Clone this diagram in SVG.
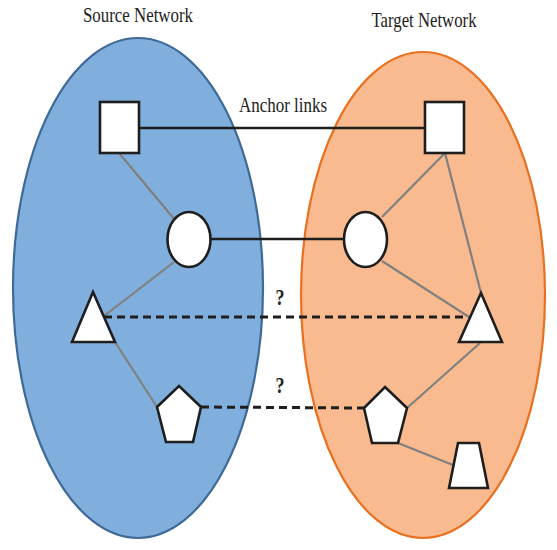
<svg xmlns="http://www.w3.org/2000/svg" width="557" height="550" viewBox="0 0 557 550">
<style>
.title{font-family:"Liberation Serif","Times New Roman",serif;font-size:22px;fill:#222}
.q{font-family:"Liberation Serif","Times New Roman",serif;font-size:24px;font-weight:bold;fill:#222}
.node{fill:#fff;stroke:#1e1e1e;stroke-width:2.6;stroke-linejoin:miter}
.edge{stroke:#808080;stroke-width:2.2;fill:none}
.anchor{stroke:#1e1e1e;stroke-width:2.6;fill:none}
.dash{stroke:#1e1e1e;stroke-width:3;fill:none;stroke-dasharray:8 5}
</style>
<rect width="557" height="550" fill="#fff"/>
<g id="source-network">
<ellipse cx="138" cy="288" rx="125" ry="250" fill="#80AEDD" stroke="#3F6996" stroke-width="2.2"/>
<text class="title" x="138" y="22" text-anchor="middle" textLength="110" lengthAdjust="spacingAndGlyphs">Source Network</text>
</g>
<g id="target-network">
<ellipse cx="423" cy="295" rx="122" ry="243" fill="#F9BA8F" stroke="#E8701F" stroke-width="2.2"/>
<text class="title" x="424" y="27" text-anchor="middle" textLength="105" lengthAdjust="spacingAndGlyphs">Target Network</text>
</g>
<g id="connectors">
<line class="edge" x1="119" y1="153" x2="175" y2="220"/>
<line class="edge" x1="174" y1="262" x2="104" y2="316"/>
<line class="edge" x1="115" y1="342" x2="157" y2="407"/>
<line class="edge" x1="445" y1="153" x2="382" y2="217"/>
<line class="edge" x1="445" y1="153" x2="481" y2="293"/>
<line class="edge" x1="382" y1="261" x2="469" y2="317"/>
<line class="edge" x1="480" y1="343" x2="407" y2="408"/>
<line class="edge" x1="398" y1="443" x2="453" y2="465"/>
<line class="anchor" x1="139" y1="128" x2="425" y2="128"/>
<line class="anchor" x1="211" y1="239" x2="344" y2="239"/>
<line class="dash" x1="104" y1="317" x2="468" y2="317"/>
<line class="dash" x1="201" y1="407" x2="364" y2="408"/>
<text class="title" x="283" y="112" text-anchor="middle" textLength="88" lengthAdjust="spacingAndGlyphs">Anchor links</text>
<text class="q" x="280" y="305" text-anchor="middle" textLength="9" lengthAdjust="spacingAndGlyphs">?</text>
<text class="q" x="280" y="393" text-anchor="middle" textLength="9" lengthAdjust="spacingAndGlyphs">?</text>
</g>
<g id="src-square"><rect class="node" x="100" y="102" width="39" height="51"/></g>
<g id="src-circle"><ellipse class="node" cx="189" cy="239.5" rx="21.5" ry="27.5"/></g>
<g id="src-triangle"><polygon class="node" points="93,292 115,342 72,342"/></g>
<g id="src-pentagon"><polygon class="node" points="179,386 201,407 193,442 166,442 157,407"/></g>
<g id="tgt-square"><rect class="node" x="425" y="102" width="39" height="51"/></g>
<g id="tgt-circle"><ellipse class="node" cx="365.5" cy="239.5" rx="21.5" ry="27.5"/></g>
<g id="tgt-triangle"><polygon class="node" points="481,293 502,342 459,342"/></g>
<g id="tgt-pentagon"><polygon class="node" points="385,387 407,408 398,443 372,443 364,408"/></g>
<g id="tgt-trapezoid"><polygon class="node" points="458,443 479,443 488,488 449,488"/></g>
</svg>
